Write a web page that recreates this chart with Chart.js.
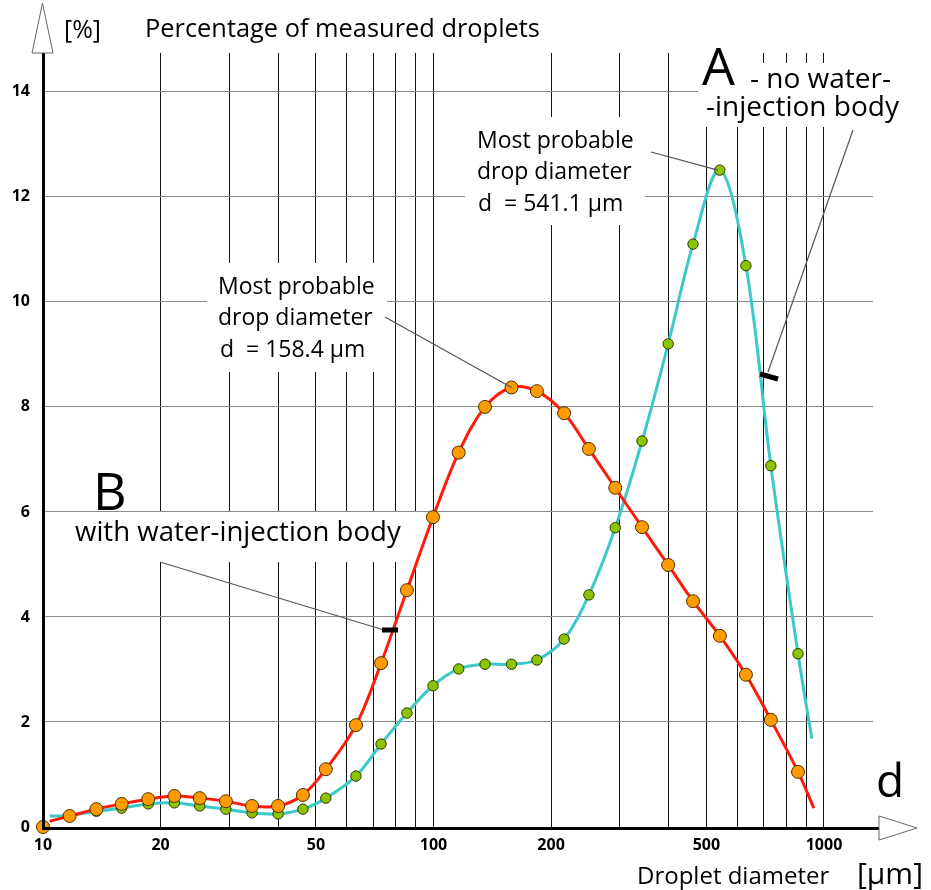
<!DOCTYPE html>
<html>
<head>
<meta charset="utf-8">
<script src="https://cdn.jsdelivr.net/npm/chart.js@4.4.0/dist/chart.umd.min.js"></script>
<style>
  html, body { margin: 0; padding: 0; background: #fff; }
  #wrap { width: 931px; height: 890px; }
</style>
</head>
<body>
<div id="wrap"><canvas id="dropChart" width="931" height="890"></canvas></div>
<script>
// droplet diameters of the measurement classes [um]
const diameters = [11.7, 13.7, 15.9, 18.6, 21.7, 25.2, 29.4, 34.3, 40.0, 46.3, 53.0, 63.3, 73.4, 85.5, 99.7,
  116, 135.5, 158.4, 184, 216, 250, 292, 342, 399, 462, 541.1, 631, 731, 858];
// B - with water-injection body [%]
const withInjection = [0.21, 0.34, 0.44, 0.53, 0.59, 0.55, 0.49, 0.40, 0.40, 0.61, 1.10, 1.94, 3.12, 4.51, 5.90,
  7.13, 8.00, 8.37, 8.30, 7.88, 7.20, 6.46, 5.71, 4.99, 4.30, 3.64, 2.90, 2.04, 1.05];
// A - no water-injection body [%]
const noInjection = [0.22, 0.30, 0.36, 0.44, 0.46, 0.40, 0.34, 0.27, 0.25, 0.34, 0.55, 0.97, 1.58, 2.17, 2.69,
  3.01, 3.10, 3.10, 3.18, 3.58, 4.42, 5.70, 7.35, 9.20, 11.10, 12.51, 10.69, 6.88, 3.30];
// the drawn curves run a little past the first and last measured points
const curveStartB = [10.4, 0.11];
const curveEndB = [942, 0.36];
const curveStartA = [10.4, 0.21];
const curveEndA = [931, 1.68];
const originPoint = [10, 0];

const xTicks = [10, 20, 30, 40, 50, 60, 70, 80, 90, 100, 200, 300, 400, 500, 600, 700, 800, 900, 1000];
const xLabels = [10, 20, 50, 100, 200, 500, 1000];
const yTicks = [0, 2, 4, 6, 8, 10, 12, 14];

const FONT = '"Open Sans", sans-serif';

function curve(start, xs, ys, end) {
  const pts = [{ x: start[0], y: start[1] }];
  xs.forEach((x, i) => pts.push({ x: x, y: ys[i] }));
  pts.push({ x: end[0], y: end[1] });
  return pts;
}
const hideEnds = r => ctx => (ctx.dataIndex === 0 || ctx.dataIndex === ctx.dataset.data.length - 1) ? 0 : r;

function text(c, s, x, y, size, weight) {
  c.font = (weight || 'normal') + ' ' + size + 'px ' + FONT;
  c.fillText(s, x, y);
}
function line(c, x1, y1, x2, y2, w, col) {
  c.beginPath();
  c.moveTo(x1, y1);
  c.lineTo(x2, y2);
  c.lineWidth = w;
  c.strokeStyle = col;
  c.stroke();
}

const annotate = {
  id: 'annotate',
  beforeDatasetsDraw(chart) {
    const c = chart.ctx;
    c.save();
    c.fillStyle = '#fff';
    c.fillRect(465, 117, 180, 108);   // 541.1 label
    c.fillRect(698, 53, 50, 74);      // A
    c.fillRect(748, 63, 160, 64);     // - no water-injection body
    c.fillRect(207, 263, 180, 109);   // 158.4 label
    c.fillRect(72, 512, 348, 50);     // with water-injection body
    c.restore();
  },
  afterDatasetsDraw(chart) {
    const c = chart.ctx;
    const xs = chart.scales.x, ys = chart.scales.y;
    c.save();
    c.lineCap = 'butt';
    // leader lines
    line(c, 651, 152, xs.getPixelForValue(541.1) - 2, ys.getPixelForValue(12.51), 1.2, '#555');
    line(c, 385, 317, xs.getPixelForValue(158.4), ys.getPixelForValue(8.37), 1.2, '#555');
    line(c, 853, 130, 768, 372, 1.2, '#555');
    line(c, 760, 374, 778, 379, 5, '#000');
    line(c, 160, 562, 384, 630, 1.2, '#555');
    line(c, 382, 630, 398, 630, 5, '#000');

    c.fillStyle = '#000';
    c.textBaseline = 'alphabetic';
    c.textAlign = 'left';
    text(c, 'Most probable', 477, 148, 23);
    text(c, 'drop diameter', 477, 179, 23);
    text(c, 'd  = 541.1 \u03bcm', 478, 211, 23);

    text(c, 'Most probable', 218, 294, 23);
    text(c, 'drop diameter', 218, 325, 23);
    text(c, 'd  = 158.4 \u03bcm', 220, 357, 23);

    text(c, 'A', 702, 85, 52);
    text(c, '- no water-', 750, 88, 28);
    text(c, '-injection body', 706, 116, 28);

    text(c, 'B', 93, 510, 52);
    text(c, 'with water-injection body', 75, 541, 27.6);
    c.restore();
  },
  afterDraw(chart) {
    const c = chart.ctx;
    const a = chart.chartArea;
    c.save();
    // axes
    line(c, a.left, a.bottom + 1.5, 879, a.bottom + 1.5, 3, '#000');
    line(c, a.left + 0.5, a.bottom + 3, a.left + 0.5, 53, 3, '#000');
    // arrow heads
    c.lineWidth = 1;
    c.strokeStyle = '#666';
    c.fillStyle = '#fff';
    c.beginPath();
    c.moveTo(32, 53); c.lineTo(42.5, 3); c.lineTo(53, 53); c.closePath();
    c.fill(); c.stroke();
    c.beginPath();
    c.moveTo(879, 816); c.lineTo(917, 828); c.lineTo(879, 840); c.closePath();
    c.fill(); c.stroke();

    c.fillStyle = '#000';
    c.textBaseline = 'alphabetic';
    text(c, '[%]', 64, 38, 25);
    text(c, 'Percentage of measured droplets', 145, 37, 25.4);
    text(c, 'd', 876, 797, 46);
    text(c, 'Droplet diameter', 637, 884, 24);
    text(c, '[\u03bcm]', 857, 884, 30);
    c.restore();
  }
};

new Chart(document.getElementById('dropChart'), {
  type: 'scatter',
  data: {
    datasets: [
      {
        label: 'B - with water-injection body',
        data: curve(curveStartB, diameters, withInjection, curveEndB),
        showLine: true,
        tension: 0.35,
        borderColor: '#ff1a0a',
        borderWidth: 3,
        pointRadius: hideEnds(6.5),
        pointBackgroundColor: '#ff9a00',
        pointBorderColor: '#4a3000',
        pointBorderWidth: 1,
        order: 1
      },
      {
        label: 'origin',
        data: [{ x: originPoint[0], y: originPoint[1] }],
        showLine: false,
        clip: false,
        pointRadius: 6.5,
        pointBackgroundColor: '#ff9a00',
        pointBorderColor: '#4a3000',
        pointBorderWidth: 1,
        order: 0
      },
      {
        label: 'A - no water-injection body',
        data: curve(curveStartA, diameters, noInjection, curveEndA),
        showLine: true,
        tension: 0.35,
        borderColor: '#3cc9c9',
        borderWidth: 3,
        pointRadius: hideEnds(5.2),
        pointBackgroundColor: '#8cc400',
        pointBorderColor: '#2c3800',
        pointBorderWidth: 1,
        order: 2
      }
    ]
  },
  options: {
    responsive: false,
    animation: false,
    devicePixelRatio: 1,
    events: [],
    layout: { padding: { left: 0, right: 58, top: 53, bottom: 0 } },
    plugins: {
      legend: { display: false },
      tooltip: { enabled: false }
    },
    scales: {
      x: {
        type: 'logarithmic',
        min: 10,
        max: 1335,
        afterBuildTicks: s => { s.ticks = xTicks.map(v => ({ value: v })); },
        afterFit: s => { s.height = 63; },
        ticks: {
          autoSkip: false,
          maxRotation: 0,
          padding: 9,
          color: '#000',
          font: { family: FONT, size: 16, weight: 'bold' },
          callback: v => xLabels.includes(v) ? String(v) : ''
        },
        grid: { color: '#111', lineWidth: 1, drawTicks: false },
        border: { display: false }
      },
      y: {
        type: 'linear',
        min: 0,
        max: 14.74,
        afterBuildTicks: s => { s.ticks = yTicks.map(v => ({ value: v })); },
        afterFit: s => { s.width = 43; },
        ticks: {
          padding: 13,
          color: '#000',
          font: { family: FONT, size: 16, weight: 'bold' }
        },
        grid: { color: '#8a8a8a', lineWidth: 1, drawTicks: false },
        border: { display: false }
      }
    }
  },
  plugins: [annotate]
});
</script>
</body>
</html>
